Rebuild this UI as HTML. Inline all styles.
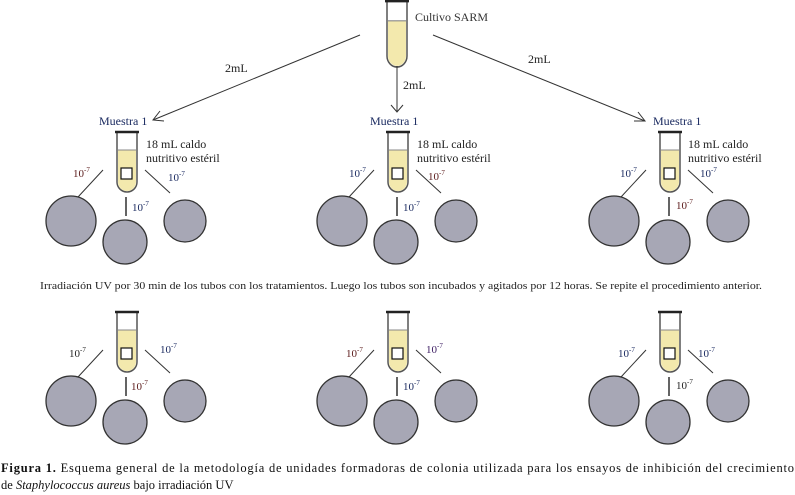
<!DOCTYPE html>
<html><head><meta charset="utf-8"><style>
body{margin:0;background:#fff;width:795px;height:495px;overflow:hidden}
svg{display:block;font-family:"Liberation Serif",serif}
</style></head><body>
<svg width="795" height="495" viewBox="0 0 795 495">
<defs>
<g id="tube">
  <path d="M-10,0 L-10,50 A10,10 0 0 0 10,50 L10,0" fill="#fff" stroke="#555" stroke-width="1.5"/>
  <path d="M-9,18 L-9,50 A9,9 0 0 0 9,50 L9,18 Z" fill="#f3e9ad"/>
  <line x1="-9" y1="18" x2="9" y2="18" stroke="#888" stroke-width="1"/>
  <line x1="-12" y1="0" x2="12" y2="0" stroke="#222" stroke-width="2.5"/>
</g>
<g id="cl">
  <use href="#tube"/>
  <rect x="-6" y="36" width="11" height="11" fill="#fff" stroke="#111" stroke-width="1.2"/>
  <line x1="-24" y1="38" x2="-49" y2="65" stroke="#333"/>
  <line x1="18" y1="38" x2="43" y2="61" stroke="#333"/>
  <line x1="-1" y1="65" x2="-1" y2="84" stroke="#111" stroke-width="1.3"/>
  <circle cx="-56" cy="89" r="25" fill="#a7a7b5" stroke="#333" stroke-width="1.3"/>
  <circle cx="-2" cy="110" r="22" fill="#a7a7b5" stroke="#333" stroke-width="1.3"/>
  <circle cx="58" cy="89" r="21" fill="#a7a7b5" stroke="#333" stroke-width="1.3"/>
</g>
</defs>
<g font-size="12">
<!-- source -->
<use href="#tube" transform="translate(397,1) scale(1,1.1)"/>
<text x="415" y="21" fill="#333">Cultivo SARM</text>
<g stroke="#333" fill="none">
<line x1="360" y1="35" x2="153" y2="120"/><polyline points="160,111 153,120 164,121"/>
<line x1="397" y1="66" x2="397" y2="112"/><polyline points="391,105 397,112 403,105"/>
<line x1="433" y1="35" x2="645" y2="121"/><polyline points="634,121 645,121 638,112"/>
</g>
<text x="225" y="72" fill="#222">2mL</text>
<text x="403" y="89" fill="#222">2mL</text>
<text x="528" y="63" fill="#222">2mL</text>

<g fill="#1a2a60">
<text x="99" y="125">Muestra 1</text>
<text x="370" y="125">Muestra 1</text>
<text x="653" y="125">Muestra 1</text>
</g>
<g fill="#222">
<text x="146" y="148">18 mL caldo</text><text x="146" y="162">nutritivo estéril</text>
<text x="417" y="148">18 mL caldo</text><text x="417" y="162">nutritivo estéril</text>
<text x="688" y="148">18 mL caldo</text><text x="688" y="162">nutritivo estéril</text>
</g>

<use href="#cl" x="127" y="132"/>
<use href="#cl" x="398" y="132"/>
<use href="#cl" x="670" y="132"/>
<use href="#cl" x="127" y="312"/>
<use href="#cl" x="398" y="312"/>
<use href="#cl" x="670" y="312"/>

<g font-size="11">
<!-- labels top row -->
<text x="73" y="177" fill="#5a1a1a">10<tspan font-size="7" dy="-5">-7</tspan></text>
<text x="168" y="181" fill="#1a2a60">10<tspan font-size="7" dy="-5">-7</tspan></text>
<text x="132" y="211" fill="#1a2a60">10<tspan font-size="7" dy="-5">-7</tspan></text>
<text x="349" y="177" fill="#1a2a60">10<tspan font-size="7" dy="-5">-7</tspan></text>
<text x="428" y="180" fill="#5a1a1a">10<tspan font-size="7" dy="-5">-7</tspan></text>
<text x="403" y="211" fill="#1a2a60">10<tspan font-size="7" dy="-5">-7</tspan></text>
<text x="620" y="177" fill="#1a2a60">10<tspan font-size="7" dy="-5">-7</tspan></text>
<text x="700" y="177" fill="#1a2a60">10<tspan font-size="7" dy="-5">-7</tspan></text>
<text x="676" y="209" fill="#5a1a1a">10<tspan font-size="7" dy="-5">-7</tspan></text>
<!-- bottom row -->
<text x="69" y="357" fill="#222">10<tspan font-size="7" dy="-5">-7</tspan></text>
<text x="160" y="353" fill="#1a2a60">10<tspan font-size="7" dy="-5">-7</tspan></text>
<text x="131" y="390" fill="#5a1a1a">10<tspan font-size="7" dy="-5">-7</tspan></text>
<text x="346" y="357" fill="#5a1a1a">10<tspan font-size="7" dy="-5">-7</tspan></text>
<text x="426" y="353" fill="#3a1a60">10<tspan font-size="7" dy="-5">-7</tspan></text>
<text x="403" y="390" fill="#1a2a60">10<tspan font-size="7" dy="-5">-7</tspan></text>
<text x="618" y="357" fill="#1a2a60">10<tspan font-size="7" dy="-5">-7</tspan></text>
<text x="698" y="357" fill="#1a2a60">10<tspan font-size="7" dy="-5">-7</tspan></text>
<text x="676" y="389" fill="#222">10<tspan font-size="7" dy="-5">-7</tspan></text>
</g>

<text x="40" y="289" font-size="11" fill="#222" textLength="722" lengthAdjust="spacingAndGlyphs">Irradiación UV por 30 min de los tubos con los tratamientos. Luego los tubos son incubados y agitados por 12 horas. Se repite el procedimiento anterior.</text>

<text x="1" y="472" font-size="12.5" fill="#111" textLength="793" lengthAdjust="spacing"><tspan font-weight="bold">Figura 1.</tspan> Esquema general de la metodología de unidades formadoras de colonia utilizada para los ensayos de inhibición del crecimiento</text>
<text x="1" y="489" font-size="12.5" fill="#111">de <tspan font-style="italic">Staphylococcus aureus</tspan> bajo irradiación UV</text>
</g>
</svg>
</body></html>
